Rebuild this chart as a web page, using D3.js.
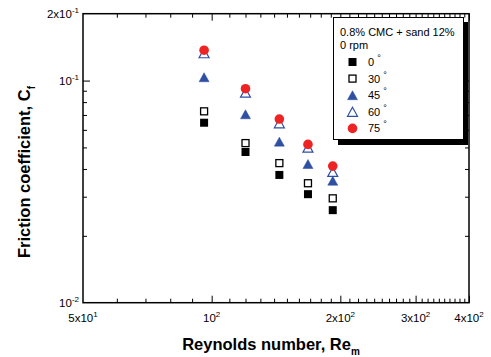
<!DOCTYPE html>
<html>
<head>
<meta charset="utf-8">
<script src="https://cdn.jsdelivr.net/npm/d3@7"></script>
<style>
  html, body { margin: 0; padding: 0; background: #fff; }
  svg { display: block; font-family: "Liberation Sans", Arial, sans-serif; }
</style>
</head>
<body>
<svg id="chart" width="491" height="357"></svg>
<script>
// Reynolds numbers of the measurement points
const reynolds = [96, 120, 144, 168, 192];

// Friction coefficient for each inclination angle
const cf0  = [0.0646, 0.0477, 0.0376, 0.0308, 0.0261];
const cf30 = [0.0727, 0.0523, 0.0425, 0.0345, 0.0295];
const cf45 = [0.1035, 0.0705, 0.0531, 0.0421, 0.0354];
const cf60 = [0.1327, 0.0882, 0.0642, 0.0499, 0.0388];
const cf75 = [0.1370, 0.0919, 0.0671, 0.0516, 0.0412];

const seriesNames = ["0", "30", "45", "60", "75"];

// Axis tick labels: [value, mantissa, exponent]
const xTickLabels = [[50, "5x10", "1"], [100, "10", "2"], [200, "2x10", "2"], [300, "3x10", "2"], [400, "4x10", "2"]];
const yTickLabels = [[0.2, "2x10", "-1"], [0.1, "10", "-1"], [0.01, "10", "-2"]];

const legendTitle = ["0.8% CMC + sand 12%", "0 rpm"];

const svg = d3.select("#chart");
const plotL = 83, plotR = 469, plotT = 13.7, plotB = 302.7;

const x = d3.scaleLog().domain([50, 400]).range([plotL, plotR]);
const y = d3.scaleLog().domain([0.01, 0.2]).range([plotB, plotT]);

// minor/major tick values
const xMajor = [100, 200, 300, 400];
const xMinor = d3.range(60, 100, 10).concat(d3.range(110, 200, 10)).concat(d3.range(210, 400, 10).filter(v => v !== 300));
const yMajor = [0.1];
const yMinor = d3.range(2, 10).map(v => v / 100);

function addAxis(axisFn, scale, values, size, transform) {
  const g = svg.append("g").attr("transform", transform)
    .call(axisFn(scale).tickValues(values).tickSize(size).tickSizeOuter(0).tickFormat(""));
  g.select(".domain").remove();
  g.selectAll(".tick line").attr("stroke", "#000").attr("stroke-width", 1);
  return g;
}

// ticks point inward on all four sides
addAxis(d3.axisBottom, x, xMinor, -4, `translate(0,${plotB})`);
addAxis(d3.axisBottom, x, xMajor, -7, `translate(0,${plotB})`);
addAxis(d3.axisTop, x, xMinor, -4, `translate(0,${plotT})`);
addAxis(d3.axisTop, x, xMajor, -7, `translate(0,${plotT})`);
addAxis(d3.axisLeft, y, yMinor, -4, `translate(${plotL},0)`);
addAxis(d3.axisLeft, y, yMajor, -7, `translate(${plotL},0)`);
addAxis(d3.axisRight, y, yMinor, -4, `translate(${plotR},0)`);
addAxis(d3.axisRight, y, yMajor, -7, `translate(${plotR},0)`);

// frame
svg.append("rect")
  .attr("x", plotL).attr("y", plotT)
  .attr("width", plotR - plotL).attr("height", plotB - plotT)
  .attr("fill", "none").attr("stroke", "#000").attr("stroke-width", 1.5);

// tick labels with superscript exponents
function powLabel(sel, mant, exp) {
  sel.append("tspan").text(mant);
  sel.append("tspan").attr("dy", -5).attr("font-size", 8).text(exp);
}
xTickLabels.forEach(([v, m, e]) => {
  const t = svg.append("text")
    .attr("x", x(v)).attr("y", plotB + 19.5)
    .attr("text-anchor", "middle").attr("font-size", 11.5).attr("fill", "#000");
  powLabel(t, m, e);
});
yTickLabels.forEach(([v, m, e]) => {
  const t = svg.append("text")
    .attr("x", plotL - 4).attr("y", y(v) + 4)
    .attr("text-anchor", "end").attr("font-size", 11.5).attr("fill", "#000");
  powLabel(t, m, e);
});

// axis titles
const xt = svg.append("text")
  .attr("x", 271).attr("y", 350)
  .attr("text-anchor", "middle").attr("font-size", 16.5).attr("font-weight", "bold");
xt.append("tspan").text("Reynolds number, Re");
xt.append("tspan").attr("dy", 5).attr("font-size", 10).text("m");

const yt = svg.append("text")
  .attr("transform", "translate(30,172) rotate(-90)")
  .attr("text-anchor", "middle").attr("font-size", 16.5).attr("font-weight", "bold");
yt.append("tspan").text("Friction coefficient, C");
yt.append("tspan").attr("dy", 5).attr("font-size", 10).text("f");

// marker shapes
const blue = "#2f4fa3", red = "#ee2424";
const tri = (w, h) => `M0,${-h / 2}L${w / 2},${h / 2}L${-w / 2},${h / 2}Z`;
const styles = [
  { shape: "sq", fill: "#000", stroke: "#000" },
  { shape: "sq", fill: "#fff", stroke: "#000" },
  { shape: "tri", fill: blue, stroke: blue },
  { shape: "tri", fill: "#fff", stroke: blue },
  { shape: "circ", fill: red, stroke: red }
];

function drawMarker(g, st, cx, cy) {
  if (st.shape === "sq") {
    const s = st.fill === "#000" ? 8 : 7;
    g.append("rect").attr("x", cx - s / 2).attr("y", cy - s / 2)
      .attr("width", s).attr("height", s)
      .attr("fill", st.fill).attr("stroke", st.stroke).attr("stroke-width", st.fill === "#000" ? 0 : 1.3);
  } else if (st.shape === "tri") {
    g.append("path").attr("d", tri(10, 9)).attr("transform", `translate(${cx},${cy})`)
      .attr("fill", st.fill).attr("stroke", st.stroke).attr("stroke-width", st.fill === "#fff" ? 1.2 : 0.5);
  } else {
    g.append("circle").attr("cx", cx).attr("cy", cy).attr("r", 4.8).attr("fill", st.fill);
  }
}

const allSeries = [cf0, cf30, cf45, cf60, cf75];
const marks = svg.append("g");
allSeries.forEach((vals, i) => {
  vals.forEach((v, j) => drawMarker(marks, styles[i], x(reynolds[j]), y(v)));
});

// legend with drop shadow
const lg = svg.append("g");
lg.append("rect").attr("x", 338).attr("y", 22).attr("width", 130).attr("height", 123).attr("fill", "#000");
lg.append("rect").attr("x", 333.5).attr("y", 17.5).attr("width", 130).attr("height", 122)
  .attr("fill", "#fff").attr("stroke", "#000").attr("stroke-width", 1);
legendTitle.forEach((t, i) => {
  lg.append("text").attr("x", 340).attr("y", 36 + i * 12.5).attr("font-size", 11).text(t);
});
seriesNames.forEach((n, i) => {
  const cy = 62 + i * 16.6;
  drawMarker(lg, styles[i], 352.5, cy);
  const t = lg.append("text").attr("x", 368).attr("y", cy + 4).attr("font-size", 11);
  t.append("tspan").text(n + " ");
  t.append("tspan").attr("dy", -5).attr("font-size", 9).text("°");
});
</script>
</body>
</html>
